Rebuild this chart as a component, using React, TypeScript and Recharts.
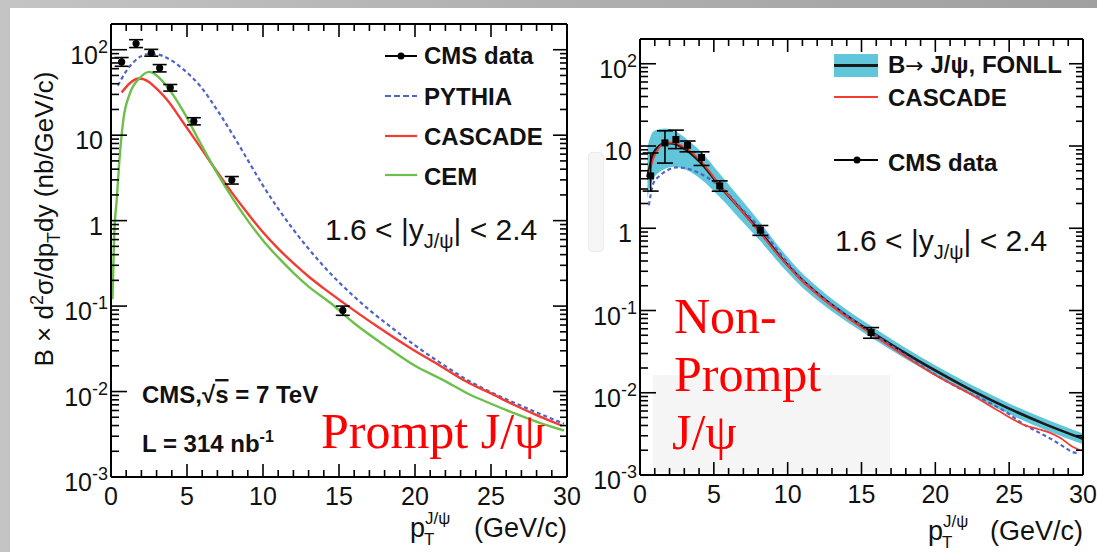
import React from 'react';
import { ComposedChart, Line, Area, Scatter, ErrorBar, XAxis, YAxis } from 'recharts';

const FONT = '"Liberation Sans", Arial, Helvetica, sans-serif';
const SERIF = '"Liberation Serif", "Times New Roman", serif';

const BLUE = '#5064c8';
const RED = '#f03c32';
const GREEN = '#6cc04a';
const BAND = '#62c6da';

// ---------- axis ticks ----------
const xTickValues = [0, 1, 2, 3, 4, 5, 6, 7, 8, 9, 10, 11, 12, 13, 14, 15, 16, 17, 18, 19, 20, 21, 22, 23, 24, 25, 26, 27, 28, 29, 30];
const xMajorTicks = [0, 5, 10, 15, 20, 25, 30];
const yDecades = [0.001, 0.01, 0.1, 1, 10, 100];
const yMinorSteps = [2, 3, 4, 5, 6, 7, 8, 9];
const yTickLabels = [
  { v: 0.001, base: '10', exp: '-3' },
  { v: 0.01, base: '10', exp: '-2' },
  { v: 0.1, base: '10', exp: '-1' },
  { v: 1, base: '1', exp: '' },
  { v: 10, base: '10', exp: '' },
  { v: 100, base: '10', exp: '2' },
];
const Y_MAX = 200;
const yTickValues: number[] = [];
yDecades.forEach((d) => {
  yTickValues.push(d);
  yMinorSteps.forEach((k) => {
    const v = Number((k * d).toPrecision(3));
    if (v < Y_MAX) yTickValues.push(v);
  });
});

// ---------- prompt J/psi (left panel) ----------
const promptPt = [0.7, 1.65, 2.65, 3.2, 3.9, 5.45, 7.95, 15.25];
const promptXsec = [72, 118, 92, 61, 36, 14.6, 2.98, 0.089];
const promptErrLo = [8, 12, 8, 6, 3.2, 1.4, 0.3, 0.011];
const promptErrHi = [9, 13, 9, 6, 3.2, 1.4, 0.3, 0.011];

const pythiaPromptPt = [0.45, 1.0, 1.5, 2.35, 3.0, 3.7, 4.8, 5.9, 7.0, 8.0, 9.0, 10.0, 11.0, 12.0, 13.0, 14.0, 15.0, 16.0, 17.0, 18.3, 20.0, 21.8, 23.5, 25.0, 26.6, 28.2, 29.8];
const pythiaPromptVal = [38, 56, 72, 88, 88, 80, 58, 37, 19.5, 10.2, 5.1, 2.57, 1.38, 0.785, 0.468, 0.292, 0.19, 0.129, 0.09, 0.059, 0.0347, 0.0209, 0.0135, 0.0098, 0.0073, 0.0055, 0.0042];

const cascadePromptPt = [0.7, 1.2, 1.86, 2.5, 3.0, 3.66, 4.76, 5.86, 7.0, 8.0, 9.0, 10.0, 11.0, 12.0, 13.0, 14.0, 15.3, 17.5, 19.9, 21.6, 23.4, 25.0, 26.5, 28.0, 29.65];
const cascadePromptVal = [31.5, 40, 46, 42, 35, 26.3, 14, 7.3, 3.69, 2.07, 1.21, 0.73, 0.47, 0.318, 0.222, 0.161, 0.109, 0.058, 0.0306, 0.0203, 0.013, 0.0095, 0.007, 0.0053, 0.004];

const cemPromptPt = [0.1, 0.2, 0.38, 0.55, 0.81, 1.25, 1.91, 2.52, 3.0, 3.66, 4.76, 5.86, 7.0, 8.0, 9.0, 10.0, 11.0, 12.0, 13.0, 14.4, 16.0, 18.0, 20.0, 21.8, 23.56, 25.0, 26.6, 28.2, 29.8];
const cemPromptVal = [0.12, 0.6, 1.8, 5, 15, 31, 47, 55, 50, 37.6, 19, 8.2, 3.54, 1.82, 1.0, 0.587, 0.371, 0.245, 0.169, 0.11, 0.063, 0.0347, 0.02, 0.0138, 0.0093, 0.0072, 0.0055, 0.0043, 0.0035];

// ---------- non-prompt J/psi (right panel) ----------
const nonPromptPt = [0.72, 1.69, 2.43, 3.22, 4.17, 5.4, 8.15, 15.65];
const nonPromptXsec = [4.33, 10.9, 12.0, 10.2, 7.25, 3.27, 0.95, 0.054];
const nonPromptErrLo = [1.5, 4.7, 2.7, 1.7, 1.45, 0.45, 0.13, 0.008];
const nonPromptErrHi = [3.9, 4.4, 3.6, 1.3, 1.25, 0.5, 0.13, 0.008];

const fonllPt = [0.5, 0.7, 0.9, 1.3, 1.7, 2.25, 3.15, 4.17, 5.4, 6.76, 8.15, 9.46, 10.8, 12.16, 14.0, 15.65, 17.8, 20.05, 22.5, 25.0, 27.5, 30.0];
const fonllCentral = [4.2, 6.0, 8.1, 10.0, 10.9, 10.7, 8.9, 6.1, 3.27, 1.74, 0.9, 0.46, 0.252, 0.153, 0.0863, 0.0551, 0.0316, 0.0184, 0.0106, 0.0064, 0.0041, 0.00275];
const fonllLow = [2.3, 3.3, 4.0, 4.8, 5.3, 5.6, 5.1, 3.9, 2.4, 1.3, 0.7, 0.37, 0.206, 0.127, 0.073, 0.047, 0.027, 0.0158, 0.0091, 0.0055, 0.0035, 0.00237];
const fonllHigh = [9.5, 12.9, 15.0, 16.0, 16.3, 15.5, 12.2, 8.4, 4.6, 2.35, 1.17, 0.58, 0.307, 0.184, 0.102, 0.0647, 0.0368, 0.0213, 0.0123, 0.0074, 0.00476, 0.00319];

const pythiaNonPromptPt = [0.6, 0.9, 1.3, 1.8, 2.48, 3.38, 4.5, 5.63, 6.76, 8.33, 9.46, 10.8, 12.16, 14.0, 15.65, 17.8, 20.05, 21.7, 23.4, 24.8, 26.1, 27.0, 27.9, 28.7, 29.3, 29.7];
const pythiaNonPromptVal = [1.9, 3.5, 4.3, 5.0, 5.5, 5.2, 4.2, 3.0, 1.82, 0.92, 0.5, 0.26, 0.155, 0.087, 0.0545, 0.03, 0.0164, 0.0112, 0.008, 0.0058, 0.004, 0.0033, 0.0027, 0.0022, 0.0019, 0.00185];

const cascadeNonPromptPt = [0.6, 0.9, 1.3, 1.7, 2.25, 3.15, 4.17, 5.4, 6.76, 8.15, 9.46, 10.8, 12.16, 14.0, 15.65, 17.8, 20.05, 22.3, 24.3, 26.1, 27.0, 27.7, 28.5, 29.3, 29.8];
const cascadeNonPromptVal = [4.4, 7.0, 9.5, 11.0, 11.0, 9.3, 6.4, 3.35, 1.72, 0.87, 0.45, 0.245, 0.148, 0.083, 0.052, 0.029, 0.0162, 0.0098, 0.006, 0.004, 0.0036, 0.0033, 0.0028, 0.0022, 0.002];

// ---------- table builders ----------
const curve = (xs: number[], ys: number[]) => xs.map((x, i) => ({ x, y: ys[i] }));
const points = (xs: number[], ys: number[], lo: number[], hi: number[]) =>
  xs.map((x, i) => ({ x, y: ys[i], err: [lo[i], hi[i]] }));
const band = (xs: number[], lo: number[], hi: number[]) => xs.map((x, i) => ({ x, range: [lo[i], hi[i]] }));

const promptPoints = points(promptPt, promptXsec, promptErrLo, promptErrHi);
const pythiaPrompt = curve(pythiaPromptPt, pythiaPromptVal);
const cascadePrompt = curve(cascadePromptPt, cascadePromptVal);
const cemPrompt = curve(cemPromptPt, cemPromptVal);

const nonPromptPoints = points(nonPromptPt, nonPromptXsec, nonPromptErrLo, nonPromptErrHi);
const fonllLine = curve(fonllPt, fonllCentral);
const fonllBand = band(fonllPt, fonllLow, fonllHigh);
const pythiaNonPrompt = curve(pythiaNonPromptPt, pythiaNonPromptVal);
const cascadeNonPrompt = curve(cascadeNonPromptPt, cascadeNonPromptVal);

// ---------- ROOT-style inward ticks ----------
const sameValue = (a: number, b: number) => Math.abs(a / b - 1) < 1e-6;

const LeftYTick = (props: any) => {
  const { x, y, payload } = props;
  const v = payload.value as number;
  const lab = yTickLabels.find((l) => sameValue(l.v, v));
  return (
    <g>
      <line x1={x} x2={x + (lab ? 16 : 8)} y1={y} y2={y} stroke="#000" strokeWidth={1.6} />
      {lab && (
        <text
          x={lab.exp ? x - 3 : x - 8}
          y={y + 14}
          textAnchor="end"
          fontFamily={FONT}
          fontSize={25}
          fill="#111"
        >
          {lab.base}
          {lab.exp && (
            <tspan dy={-11} fontSize={18}>
              {lab.exp}
            </tspan>
          )}
        </text>
      )}
    </g>
  );
};

const RightYTick = (props: any) => {
  const { x, y, payload } = props;
  const major = yDecades.some((d) => sameValue(d, payload.value));
  return <line x1={x} x2={x - (major ? 14 : 7)} y1={y} y2={y} stroke="#000" strokeWidth={1.6} />;
};

const BottomXTick = (props: any) => {
  const { x, y, payload } = props;
  const major = xMajorTicks.includes(payload.value);
  return (
    <g>
      <line x1={x} x2={x} y1={y} y2={y - (major ? 13 : 7)} stroke="#000" strokeWidth={1.6} />
      {major && (
        <text x={x} y={y + 28} textAnchor="middle" fontFamily={FONT} fontSize={25} fill="#111">
          {payload.value}
        </text>
      )}
    </g>
  );
};

const TopXTick = (props: any) => {
  const { x, y, payload } = props;
  const major = xMajorTicks.includes(payload.value);
  return <line x1={x} x2={x} y1={y} y2={y + (major ? 13 : 7)} stroke="#000" strokeWidth={1.6} />;
};

const axisLine = { stroke: '#000', strokeWidth: 2 };

const Frame = () => [
  <XAxis
    key="xb"
    xAxisId="b"
    type="number"
    dataKey="x"
    domain={[0, 30]}
    allowDataOverflow
    ticks={xTickValues}
    interval={0}
    tickSize={0}
    tickMargin={0}
    tick={(p: any) => <BottomXTick {...p} />}
    axisLine={axisLine}
    height={40}
  />,
  <XAxis
    key="xt"
    xAxisId="t"
    orientation="top"
    type="number"
    dataKey="x"
    domain={[0, 30]}
    allowDataOverflow
    ticks={xTickValues}
    interval={0}
    tickSize={0}
    tickMargin={0}
    tick={(p: any) => <TopXTick {...p} />}
    axisLine={axisLine}
    height={4}
  />,
  <YAxis
    key="yl"
    yAxisId="l"
    type="number"
    scale="log"
    domain={[0.001, Y_MAX]}
    allowDataOverflow
    ticks={yTickValues}
    interval={0}
    tickSize={0}
    tickMargin={0}
    tick={(p: any) => <LeftYTick {...p} />}
    axisLine={axisLine}
    width={60}
  />,
  <YAxis
    key="yr"
    yAxisId="r"
    orientation="right"
    type="number"
    scale="log"
    domain={[0.001, Y_MAX]}
    allowDataOverflow
    ticks={yTickValues}
    interval={0}
    tickSize={0}
    tickMargin={0}
    tick={(p: any) => <RightYTick {...p} />}
    axisLine={axisLine}
    width={6}
  />,
];

const CircleMarker = (p: any) => <circle cx={p.cx} cy={p.cy} r={3.6} fill="#000" />;
const SquareMarker = (p: any) => <rect x={p.cx - 3.5} y={p.cy - 3.5} width={7} height={7} fill="#000" />;

const PromptChart = () => (
  <ComposedChart width={600} height={552} margin={{ top: 20, right: 27, bottom: 35, left: 51 }}>
    {Frame()}
    <Line xAxisId="b" yAxisId="l" data={pythiaPrompt} dataKey="y" type="monotone" dot={false}
      stroke={BLUE} strokeWidth={2.2} strokeDasharray="4 3" isAnimationActive={false} />
    <Line xAxisId="b" yAxisId="l" data={cascadePrompt} dataKey="y" type="monotone" dot={false}
      stroke={RED} strokeWidth={2.4} isAnimationActive={false} />
    <Line xAxisId="b" yAxisId="l" data={cemPrompt} dataKey="y" type="monotone" dot={false}
      stroke={GREEN} strokeWidth={2.4} isAnimationActive={false} />
    <Scatter xAxisId="b" yAxisId="l" data={promptPoints} dataKey="y" shape={CircleMarker} isAnimationActive={false}>
      <ErrorBar dataKey="err" direction="y" width={7} stroke="#000" strokeWidth={1.6} />
    </Scatter>
  </ComposedChart>
);

const NonPromptChart = () => (
  <ComposedChart width={557} height={552} margin={{ top: 35, right: 8, bottom: 37, left: 40 }}>
    {Frame()}
    <Area xAxisId="b" yAxisId="l" data={fonllBand} dataKey="range" type="monotone" stroke="none"
      fill={BAND} fillOpacity={1} isAnimationActive={false} />
    <Line xAxisId="b" yAxisId="l" data={fonllLine} dataKey="y" type="monotone" dot={false}
      stroke="#1a1a1a" strokeWidth={2.6} isAnimationActive={false} />
    <Line xAxisId="b" yAxisId="l" data={pythiaNonPrompt} dataKey="y" type="monotone" dot={false}
      stroke={BLUE} strokeWidth={2.2} strokeDasharray="4 3" isAnimationActive={false} />
    <Line xAxisId="b" yAxisId="l" data={cascadeNonPrompt} dataKey="y" type="monotone" dot={false}
      stroke={RED} strokeWidth={1.8} isAnimationActive={false} />
    <Scatter xAxisId="b" yAxisId="l" data={nonPromptPoints} dataKey="y" shape={SquareMarker} isAnimationActive={false}>
      <ErrorBar dataKey="err" direction="y" width={8} stroke="#000" strokeWidth={1.6} />
    </Scatter>
  </ComposedChart>
);

const Annotations = () => (
  <svg width={1097} height={552} style={{ position: 'absolute', left: 0, top: 0, pointerEvents: 'none' }}>
    {/* y-axis title */}
    <text transform="translate(53,219) rotate(-90)" textAnchor="middle" fontFamily={FONT} fontSize={26} fill="#111">
      {'B × d'}
      <tspan dy={-10} fontSize={18}>2</tspan>
      <tspan dy={10}>σ/dp</tspan>
      <tspan dy={7} fontSize={18}>T</tspan>
      <tspan dy={-7}>dy (nb/GeV/c)</tspan>
    </text>

    {/* x-axis titles */}
    {[{ px: 410, end: 567, base: 537 }, { px: 928, end: 1083, base: 540 }].map((t, i) => (
      <g key={i} fontFamily={FONT} fill="#111">
        <text x={t.px} y={t.base} fontSize={27}>p</text>
        <text x={t.px + 15} y={t.base - 13} fontSize={17}>J/ψ</text>
        <text x={t.px + 14} y={t.base + 8} fontSize={17}>T</text>
        <text x={t.end} y={t.base} fontSize={27} textAnchor="end">(GeV/c)</text>
      </g>
    ))}

    {/* left legend */}
    <g fontFamily={FONT} fontWeight="bold" fontSize={24} fill="#111">
      <line x1={385} x2={417} y1={56} y2={56} stroke="#000" strokeWidth={2} />
      <circle cx={401} cy={56} r={3.5} fill="#000" />
      <text x={424} y={64}>CMS data</text>
      <line x1={385} x2={417} y1={96} y2={96} stroke={BLUE} strokeWidth={2.2} strokeDasharray="6 3" />
      <text x={424} y={105}>PYTHIA</text>
      <line x1={385} x2={417} y1={136} y2={136} stroke={RED} strokeWidth={2.2} />
      <text x={424} y={145}>CASCADE</text>
      <line x1={385} x2={417} y1={175} y2={175} stroke={GREEN} strokeWidth={2.2} />
      <text x={424} y={185}>CEM</text>
    </g>

    {/* right legend */}
    <g fontFamily={FONT} fontWeight="bold" fontSize={24} fill="#111">
      <rect x={834} y={54} width={44} height={23} fill={BAND} />
      <line x1={834} x2={878} y1={65.5} y2={65.5} stroke="#1a1a1a" strokeWidth={3} />
      <text x={888} y={73}>
        B
        <tspan fontFamily='"DejaVu Sans", sans-serif' fontWeight="normal" fontSize={22}>→</tspan>
        {' J/ψ, FONLL'}
      </text>
      <line x1={834} x2={878} y1={97} y2={97} stroke={RED} strokeWidth={1.8} />
      <text x={888} y={106}>CASCADE</text>
      <line x1={834} x2={878} y1={160} y2={160} stroke="#000" strokeWidth={2} />
      <circle cx={857} cy={160} r={3.5} fill="#000" />
      <text x={888} y={171}>CMS data</text>
    </g>

    {/* rapidity ranges */}
    {[{ x: 325, y: 240 }, { x: 835, y: 251 }].map((p, i) => (
      <text key={i} x={p.x} y={p.y} fontFamily={FONT} fontSize={30} fill="#111">
        {'1.6 < |y'}
        <tspan dy={8} fontSize={20}>J/ψ</tspan>
        <tspan dy={-8}>{'| < 2.4'}</tspan>
      </text>
    ))}

    {/* experiment labels */}
    <g fontFamily={FONT} fontWeight="bold" fontSize={24} fill="#111">
      <text x={142} y={403}>
        {'CMS,√'}
        <tspan style={{ textDecoration: 'overline' }}>s</tspan>
        {' = 7 TeV'}
      </text>
      <text x={142} y={452}>
        {'L = 314 nb'}
        <tspan dy={-10} fontSize={16}>-1</tspan>
      </text>
    </g>

    {/* panel names */}
    <g fontFamily={SERIF} fontSize={50} fill="#ff0000">
      <text x={321} y={448}>Prompt J/ψ</text>
      <text x={674} y={333}>Non-</text>
      <text x={674} y={391}>Prompt</text>
      <text x={672} y={449}>J/ψ</text>
    </g>
  </svg>
);

export default function App() {
  return (
    <div
      style={{
        position: 'absolute',
        left: 0,
        top: 0,
        width: 1097,
        height: 552,
        overflow: 'hidden',
        background: 'linear-gradient(to right, #c4c4c4 0%, #b0b0b0 50%, #a0a0a0 100%)',
      }}
    >
      <div style={{ position: 'absolute', left: 10, top: 8, width: 1087, height: 544, background: '#fff' }} />
      <div style={{ position: 'absolute', left: 653, top: 375, width: 237, height: 97, background: '#f5f5f5' }} />
      <div
        style={{
          position: 'absolute',
          left: 588,
          top: 152,
          width: 14,
          height: 98,
          background: '#f6f6f6',
          border: '1px solid #ececec',
          borderRadius: 4,
        }}
      />
      <div style={{ position: 'absolute', left: 0, top: 0 }}>
        <PromptChart />
      </div>
      <div style={{ position: 'absolute', left: 540, top: 0 }}>
        <NonPromptChart />
      </div>
      <Annotations />
    </div>
  );
}
